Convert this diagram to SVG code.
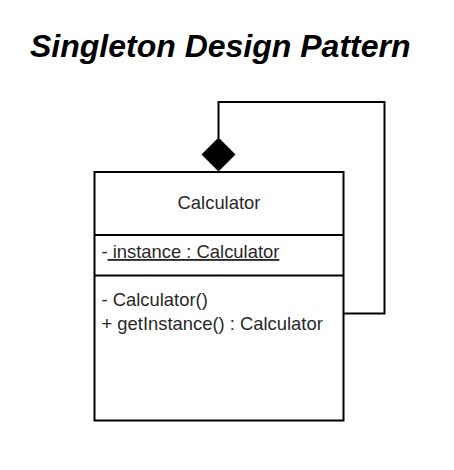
<svg xmlns="http://www.w3.org/2000/svg" width="454" height="470" viewBox="0 0 454 470">
<style>
.title{font-family:"Liberation Sans",Arial,sans-serif;font-size:32px;font-weight:bold;font-style:italic;fill:#000}
.t{font-family:"Liberation Sans",Arial,sans-serif;font-size:18.4px;fill:#282828}
.box{fill:#fff;stroke:#000;stroke-width:2}
.ln{fill:none;stroke:#000;stroke-width:2}
</style>
<rect width="454" height="470" fill="#fff"/>
<text class="title" x="30" y="57">Singleton Design Pattern</text>
<g id="connectors">
<path class="ln" d="M218.5 138 V102 H384.5 V313.5 H343.5"/>
<polygon points="218.5,137.5 235.5,154.5 218.5,171.5 201.5,154.5" fill="#000"/>
</g>
<g id="calculator">
<rect class="box" x="94.5" y="172" width="249" height="248.5"/>
<line class="ln" x1="94.5" y1="235" x2="343.5" y2="235"/>
<line class="ln" x1="94.5" y1="275.5" x2="343.5" y2="275.5"/>
<text class="t" x="219" y="208.5" text-anchor="middle">Calculator</text>
<text class="t" x="101.5" y="258">-<tspan text-decoration="underline"> instance : Calculator</tspan></text>
<text class="t" x="101.5" y="306">- Calculator()</text>
<text class="t" x="101.5" y="329.5">+ getInstance() : Calculator</text>
</g>
</svg>
